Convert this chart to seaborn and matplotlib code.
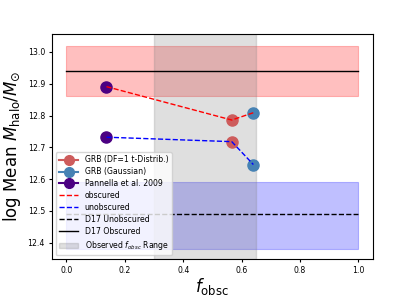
import matplotlib
matplotlib.use("Agg")
import matplotlib.pyplot as plt
from matplotlib.lines import Line2D
import seaborn as sns

# observed fraction of obscured AGN for each sample
f_grb_t = [0.566]
f_grb_gauss = [0.640]
f_pannella = [0.137]

# log mean halo mass (obscured, unobscured)
m_grb_t = [12.786, 12.718]
m_grb_gauss = [12.809, 12.646]
m_pannella = [12.891, 12.732]

# dashed connecting lines (pannella -> t-distrib -> gaussian)
f_line = [0.137, 0.566, 0.640]
m_obsc_line = [12.891, 12.786, 12.809]
m_unobsc_line = [12.732, 12.718, 12.646]

# D17 reference values and ranges
d17_obsc, d17_obsc_lo, d17_obsc_hi = 12.94, 12.86, 13.02
d17_unobsc, d17_unobsc_lo, d17_unobsc_hi = 12.49, 12.38, 12.59
f_range = (0.30, 0.65)
f_span = [0.0, 1.0]

MS = 8

fig = plt.figure(figsize=(4.15, 2.97), dpi=100)
ax = fig.add_axes([0.125, 0.128, 0.774, 0.758])

ax.fill_between(f_span, d17_obsc_lo, d17_obsc_hi, color="red", alpha=0.25, lw=0.8)
ax.fill_between(f_span, d17_unobsc_lo, d17_unobsc_hi, color="blue", alpha=0.25, lw=0.8)
range_patch = ax.axvspan(*f_range, color="gray", alpha=0.25, label="Observed $f_{obsc}$ Range")

l_unob, = ax.plot(f_span, [d17_unobsc] * 2, "k--", lw=1, label="D17 Unobscured")
l_ob, = ax.plot(f_span, [d17_obsc] * 2, "k-", lw=1, label="D17 Obscured")

ax.plot(f_grb_t * 2, m_grb_t, "o", color="indianred", ms=MS)
ax.plot(f_grb_gauss * 2, m_grb_gauss, "o", color="steelblue", ms=MS)
ax.plot(f_pannella * 2, m_pannella, "o", color="indigo", ms=MS)

sns.lineplot(x=f_line, y=m_obsc_line, color="red", ls="--", lw=1, ax=ax, legend=False)
sns.lineplot(x=f_line, y=m_unobsc_line, color="blue", ls="--", lw=1, ax=ax, legend=False)


def marker_handle(c, lab):
    return Line2D([], [], color=c, marker="o", ms=7, lw=1.5, label=lab)


handles = [
    marker_handle("indianred", "GRB (DF=1 t-Distrib.)"),
    marker_handle("steelblue", "GRB (Gaussian)"),
    marker_handle("indigo", "Pannella et al. 2009"),
    Line2D([], [], color="red", ls="--", lw=1, label="obscured"),
    Line2D([], [], color="blue", ls="--", lw=1, label="unobscured"),
    l_unob, l_ob, range_patch,
]
ax.legend(handles=handles, loc="lower left", fontsize=5.6, handlelength=2.5,
          labelspacing=0.38, borderpad=0.4)

ax.set_xlim(-0.05, 1.05)
ax.set_ylim(12.349, 13.057)
ax.set_yticks([12.4, 12.5, 12.6, 12.7, 12.8, 12.9, 13.0])
ax.tick_params(labelsize=5.6, length=2.5, pad=2.5)
ax.set_xlabel(r"$f_{\rm obsc}$", fontsize=12, labelpad=1)
ax.set_ylabel(r"log Mean $M_{\rm halo}/M_{\odot}$", fontsize=12, labelpad=3)

fig.savefig("out.png", dpi=100)
